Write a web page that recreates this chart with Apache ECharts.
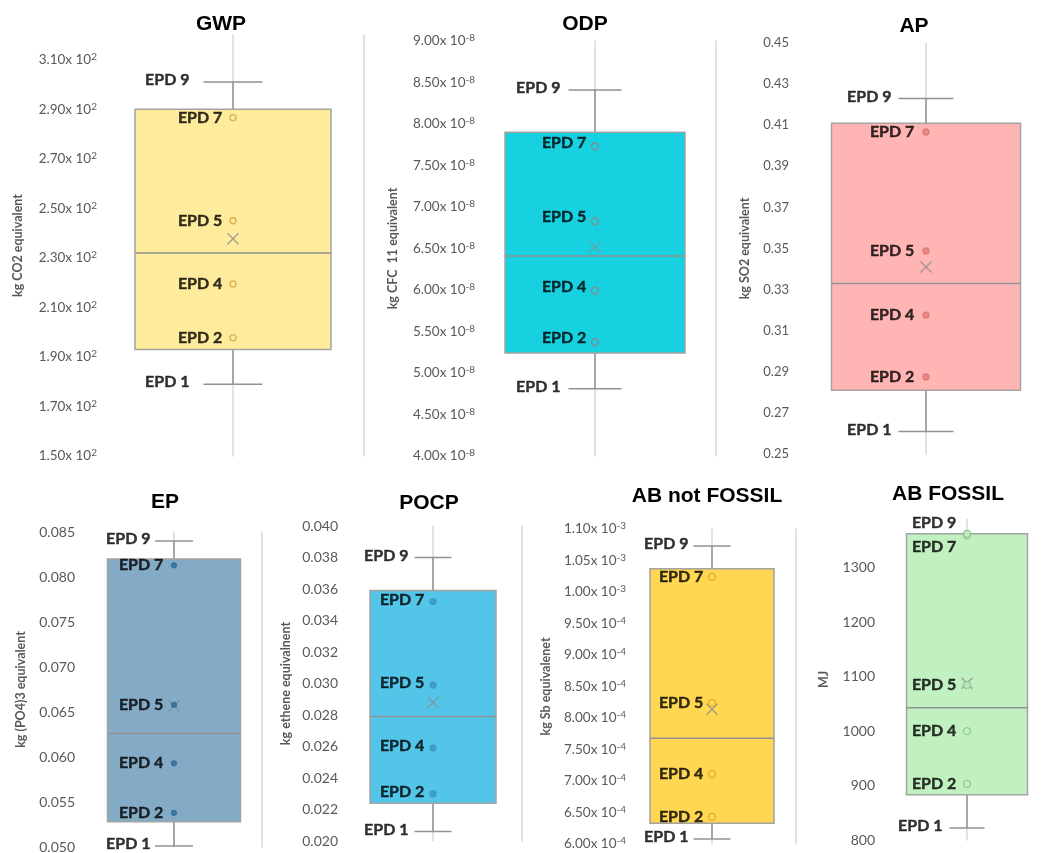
<!DOCTYPE html>
<html>
<head>
<meta charset="utf-8">
<title>EPD box plots</title>
<script src="https://cdn.jsdelivr.net/npm/echarts@6.0.0/dist/echarts.min.js"></script>
<style>
  html, body { margin: 0; padding: 0; background: #fff; }
  #chart { width: 1041px; height: 853px; }
</style>
</head>
<body>
<div id="chart"></div>
<script>
// impact categories, one panel each
const titles = ["GWP", "ODP", "AP", "EP", "POCP", "AB not FOSSIL", "AB FOSSIL"];
const units = ["kg CO2 equivalent", "kg CFC  11 equivalent", "kg SO2 equivalent",
  "kg (PO4)3 equivalent", "kg ethene equivalnent", "kg Sb equivalenet", "MJ"];

// the EPDs that carry a label
const epdNames = ["EPD 1", "EPD 2", "EPD 4", "EPD 5", "EPD 7", "EPD 9"];

// box = [min, Q1, median, Q3, max], epd = values in epdNames order, ticks = [min, max, step]
const gwpBox = [179, 193, 232, 290, 301];
const gwpEpd = [179, 197.7, 219.5, 245, 286.6, 301];
const gwpMean = 237.7;
const gwpTicks = [150, 320, 20];

const odpBox = [4.81e-8, 5.24e-8, 6.41e-8, 7.90e-8, 8.41e-8];
const odpEpd = [4.81e-8, 5.37e-8, 5.99e-8, 6.83e-8, 7.73e-8, 8.41e-8];
const odpMean = 6.52e-8;
const odpTicks = [4e-8, 9e-8, 5e-9];

const apBox = [0.261, 0.281, 0.333, 0.411, 0.423];
const apEpd = [0.261, 0.2875, 0.3176, 0.3488, 0.4067, 0.423];
const apMean = 0.341;
const apTicks = [0.25, 0.45, 0.02];

const epBox = [0.0501, 0.0528, 0.0626, 0.0820, 0.0840];
const epEpd = [0.0501, 0.0538, 0.0593, 0.0658, 0.0813, 0.0840];
const epMean = 0.0657;
const epTicks = [0.05, 0.085, 0.005];

const pocpBox = [0.0206, 0.0224, 0.0279, 0.0359, 0.0380];
const pocpEpd = [0.0206, 0.0230, 0.0259, 0.0299, 0.0352, 0.0380];
const pocpMean = 0.0288;
const pocpTicks = [0.02, 0.04, 0.002];

const abnfBox = [6.08e-4, 6.33e-4, 7.68e-4, 1.037e-3, 1.073e-3];
const abnfEpd = [6.08e-4, 6.43e-4, 7.11e-4, 8.24e-4, 1.024e-3, 1.073e-3];
const abnfMean = 8.14e-4;
const abnfTicks = [6e-4, 1.1e-3, 5e-5];

const abfBox = [822, 883, 1043, 1363, 1363];
const abfEpd = [822, 903, 1000, 1085, 1360, 1363];
const abfMean = 1088;
const abfTicks = [800, 1390, 100];

const GREY = "#595959";
const FONT = "Lato";

function sci(v) {
  const e = Math.floor(Math.log10(v) + 1e-9);
  const m = (v / Math.pow(10, e)).toFixed(2);
  return "{m|" + m + "x 10}{s|" + e + "}";
}
const fix = (d) => (v) => v.toFixed(d);

// layout / style of each panel (pixels)
const panels = [
  { box: gwpBox, epd: gwpEpd, mean: gwpMean, ticks: gwpTicks, fmt: sci,
    left: 103, right: 364, center: 233, top: 35, bottom: 456, half: 98, cap: 29.5,
    endGap: 43, ptGap: 10, dy: 0, nameGap: 79, margin: 6, fs: 13.5, side: true, showMax: false,
    fill: "#FFEB9C", dot: { size: 6, color: "#FFEB9C", border: "#C9A43E" } },
  { box: odpBox, epd: odpEpd, mean: odpMean, ticks: odpTicks, fmt: sci,
    left: 477, right: 716, center: 595, top: 41, bottom: 456, half: 90, cap: 26.5,
    endGap: 34, ptGap: 8, dy: -4, nameGap: 78, margin: 2, fs: 13.5, side: true, showMax: true,
    fill: "#17D1E1", dot: { size: 7, color: "#17D1E1", border: "#A07A7A" } },
  { box: apBox, epd: apEpd, mean: apMean, ticks: apTicks, fmt: fix(2),
    left: 801, right: 1041, center: 926, top: 43, bottom: 454, half: 94.5, cap: 27.5,
    endGap: 34, ptGap: 11, dy: 0, nameGap: 50, margin: 12, fs: 13, side: false, showMax: true,
    fill: "#FFB5B3", dot: { size: 6, color: "#E67C7C", border: "#DA7070" } },
  { box: epBox, epd: epEpd, mean: epMean, ticks: epTicks, fmt: fix(3),
    left: 88, right: 262, center: 174, top: 532, bottom: 847, half: 66.5, cap: 19,
    endGap: 23, ptGap: 10, dy: 0, nameGap: 61, margin: 13, fs: 14, side: true, showMax: true,
    fill: "#84ABC5", dot: { size: 5, color: "#2E6C98", border: "#2E6C98" } },
  { box: pocpBox, epd: pocpEpd, mean: pocpMean, ticks: pocpTicks, fmt: fix(3),
    left: 350, right: 522, center: 433, top: 526, bottom: 841, half: 63, cap: 18.5,
    endGap: 24, ptGap: 8, dy: -2, nameGap: 58, margin: 12, fs: 14, side: true, showMax: true,
    fill: "#52C5E8", dot: { size: 6, color: "#3D94C3", border: "#3D94C3" } },
  { box: abnfBox, epd: abnfEpd, mean: abnfMean, ticks: abnfTicks, fmt: sci,
    left: 628, right: 796, center: 712, top: 529, bottom: 844, half: 62, cap: 18.5,
    endGap: 23, ptGap: 8, dy: 0, nameGap: 76, margin: 2, fs: 13.5, side: true, showMax: true,
    fill: "#FFD753", dot: { size: 7, color: "#FFD753", border: "#E2A21C" } },
  { box: abfBox, epd: abfEpd, mean: abfMean, ticks: abfTicks, fmt: fix(0),
    left: 887, right: 1041, center: 967, top: 519, bottom: 840, half: 60.5, cap: 17.5,
    endGap: 24, ptGap: 10, dy: 0, nameGap: 57, margin: 12, fs: 14, side: false, showMax: false,
    fill: "#C1F0C1", dot: { size: 7, color: "#C1F0C1", border: "#8DC08D" },
    visibleEnds: ["EPD 9"], shift: { "EPD 9": -11, "EPD 7": 12 } }
];

// title centres
const titlePos = [[221, 24], [585, 24], [914, 26], [165, 502], [429, 503], [707, 496], [948, 494]];

const grids = [], xAxes = [], yAxes = [], series = [];

panels.forEach((p, i) => {
  grids.push({ left: p.left, top: p.top, width: p.right - p.left, height: p.bottom - p.top,
    outerBoundsMode: "none" });
  xAxes.push({ gridIndex: i, type: "value", min: p.left - p.center, max: p.right - p.center, show: false });
  yAxes.push({
    gridIndex: i, type: "value", min: p.ticks[0], max: p.ticks[1], interval: p.ticks[2],
    axisLine: { show: true, lineStyle: { color: "#D9D9D9", width: 1.5 } },
    axisTick: { show: false }, splitLine: { show: false },
    axisLabel: {
      margin: p.margin, showMaxLabel: p.showMax, showMinLabel: true,
      color: GREY, fontFamily: FONT, fontSize: p.fs, formatter: p.fmt,
      rich: {
        m: { color: GREY, fontFamily: FONT, fontSize: p.fs, lineHeight: 16 },
        s: { color: GREY, fontFamily: FONT, fontSize: 10, lineHeight: 10, verticalAlign: "top" }
      }
    },
    name: units[i], nameLocation: "middle", nameRotate: 90, nameGap: p.nameGap,
    nameTextStyle: { color: GREY, fontFamily: FONT, fontWeight: "bold", fontSize: 12.5 }
  });
  yAxes.push({
    gridIndex: i, type: "value", position: "right", min: p.ticks[0], max: p.ticks[1],
    axisLine: { show: p.side, lineStyle: { color: "#D9D9D9", width: 1.5 } },
    axisTick: { show: false }, axisLabel: { show: false }, splitLine: { show: false }
  });

  // box, median and whiskers
  series.push({
    type: "custom", xAxisIndex: i, yAxisIndex: 2 * i, clip: false,
    encode: { x: 0, y: [1, 2, 3, 4, 5] },
    data: [[0].concat(p.box)],
    renderItem: function (params, api) {
      const x = api.coord([0, api.value(1)])[0];
      const y = (k) => api.coord([0, api.value(k)])[1];
      const yMin = y(1), yQ1 = y(2), yMed = y(3), yQ3 = y(4), yMax = y(5);
      const line = (x1, y1, x2, y2) => ({ type: "line", shape: { x1, y1, x2, y2 },
        style: { stroke: "#929292", lineWidth: 1.5 } });
      const children = [];
      if (yQ3 - yMax > 0.5) {
        children.push(line(x, yMax, x, yQ3), line(x - p.cap, yMax, x + p.cap, yMax));
      }
      children.push(line(x, yQ1, x, yMin), line(x - p.cap, yMin, x + p.cap, yMin));
      children.push({ type: "rect", shape: { x: x - p.half, y: yQ3, width: 2 * p.half, height: yQ1 - yQ3 },
        style: { fill: p.fill, stroke: "#A3A3A3", lineWidth: 1.5 } });
      children.push(line(x - p.half, yMed, x + p.half, yMed));
      return { type: "group", children };
    },
    z: 1
  });

  // EPD points with their labels
  series.push({
    type: "scatter", xAxisIndex: i, yAxisIndex: 2 * i,
    data: epdNames.map((name, k) => {
      const end = (name === "EPD 1" || name === "EPD 9") && !(p.visibleEnds || []).includes(name);
      const shift = (p.shift && p.shift[name]) || 0;
      return {
        name: name, value: [0, p.epd[k]],
        symbolSize: end ? 1 : p.dot.size,
        itemStyle: end ? { color: "transparent", borderWidth: 0 } :
          { color: p.dot.color, borderColor: p.dot.border, borderWidth: 1.3 },
        label: {
          show: true, position: "left",
          distance: end ? p.endGap : p.ptGap - p.dot.size / 2,
          offset: [0, end ? -2 : p.dy + shift]
        }
      };
    }),
    label: { formatter: "{b}", color: "#000", fontFamily: FONT, fontWeight: "bold", fontSize: 16,
      textBorderColor: "#000", textBorderWidth: 0.4 },
    z: 3
  });

  // mean marker
  series.push({
    type: "scatter", xAxisIndex: i, yAxisIndex: 2 * i,
    symbol: "path://M0,0L10,10M10,0L0,10", symbolSize: 11,
    itemStyle: { color: "transparent", borderColor: "#8C8C8C", borderWidth: 1.3 },
    data: [[0, p.mean]], z: 2
  });
});

const chart = echarts.init(document.getElementById("chart"));
chart.setOption({
  backgroundColor: "#fff",
  animation: false,
  grid: grids, xAxis: xAxes, yAxis: yAxes, series: series,
  graphic: titles.map((t, i) => ({
    type: "text", x: titlePos[i][0], y: titlePos[i][1],
    style: { text: t, align: "center", verticalAlign: "middle", fill: "#000",
      font: "bold 21px 'Liberation Sans', Arial, sans-serif" }
  }))
});
</script>
</body>
</html>
